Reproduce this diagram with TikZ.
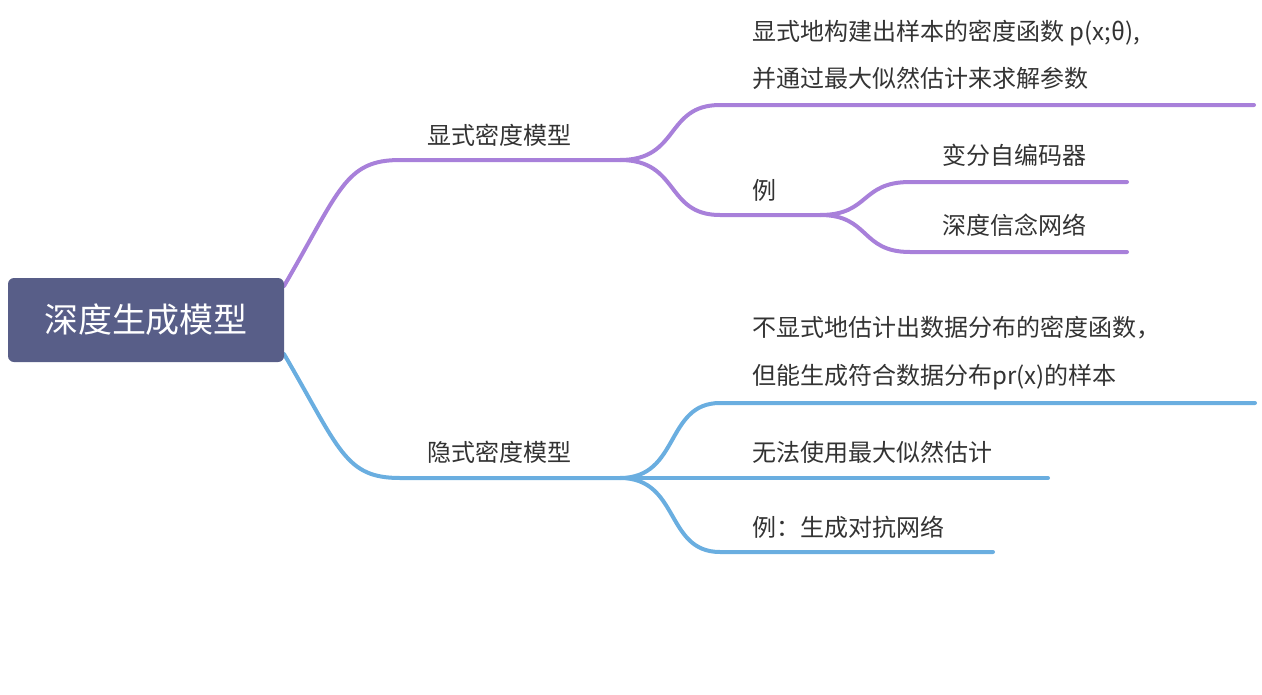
\documentclass[tikz,border=0pt]{standalone}
\usepackage{fontspec}
\setmainfont{Noto Sans CJK SC}
\begin{document}
\begin{tikzpicture}[x=1pt,y=-1pt,
  lbl/.style={anchor=west,inner sep=0pt,font=\fontsize{24}{28}\selectfont,text=black!80},
  pl/.style={draw=purpc,line width=4pt,line cap=round},
  bl/.style={draw=bluec,line width=4pt,line cap=round}]
\definecolor{purpc}{HTML}{A880DA}
\definecolor{bluec}{HTML}{6AAEE0}
\definecolor{rootc}{HTML}{585E88}
\useasboundingbox (0,0) rectangle (1262,694);
% coordinates
\coordinate (r1) at (284,286);
\coordinate (r2) at (284,354);
\coordinate (p0) at (400,160); \coordinate (p1) at (620,160);
\coordinate (pa0) at (720,105); \coordinate (pa1) at (1254,105);
\coordinate (pb0) at (720,215); \coordinate (pb1) at (820,215);
\coordinate (pc0) at (910,182); \coordinate (pc1) at (1127,182);
\coordinate (pd0) at (910,252); \coordinate (pd1) at (1127,252);
\coordinate (b0) at (400,478); \coordinate (b1) at (620,478);
\coordinate (ba0) at (720,403); \coordinate (ba1) at (1255,403);
\coordinate (bb0) at (720,478); \coordinate (bb1) at (1048,478);
\coordinate (bc0) at (720,552); \coordinate (bc1) at (993,552);
% purple
\draw[pl] (r1) .. controls (340,190) and (345,160) .. (p0) -- (p1);
\draw[pl] (p1) .. controls (680,160) and (665,105) .. (pa0) -- (pa1);
\draw[pl] (p1) .. controls (680,160) and (665,215) .. (pb0) -- (pb1);
\draw[pl] (pb1) .. controls (870,215) and (860,182) .. (pc0) -- (pc1);
\draw[pl] (pb1) .. controls (870,215) and (860,252) .. (pd0) -- (pd1);
% blue
\draw[bl] (r2) .. controls (340,450) and (345,478) .. (b0) -- (b1);
\draw[bl] (b1) .. controls (680,478) and (665,403) .. (ba0) -- (ba1);
\draw[bl] (b1) -- (bb0) -- (bb1);
\draw[bl] (b1) .. controls (680,478) and (665,552) .. (bc0) -- (bc1);
% root
\node[fill=rootc,rounded corners=6pt,minimum width=276pt,minimum height=84pt,text=white,font=\fontsize{34}{40}\selectfont,inner sep=0pt] (root) at (146,320) {深度生成模型};
% labels
\node[lbl] (t1) at (427,135) {显式密度模型};
\node[lbl] (t2) at (752,33) {显式地构建出样本的密度函数 p(x;θ),};
\node[lbl] (t3) at (752,78) {并通过最大似然估计来求解参数};
\node[lbl] (t4) at (752,190) {例};
\node[lbl] (t5) at (942,155) {变分自编码器};
\node[lbl] (t6) at (942,225) {深度信念网络};
\node[lbl] (t7) at (427,452) {隐式密度模型};
\node[lbl] (t8) at (752,328) {不显式地估计出数据分布的密度函数，};
\node[lbl] (t9) at (752,377) {但能生成符合数据分布pr(x)的样本};
\node[lbl] (t10) at (752,452) {无法使用最大似然估计};
\node[lbl] (t11) at (752,527) {例：生成对抗网络};
\end{tikzpicture}
\end{document}
